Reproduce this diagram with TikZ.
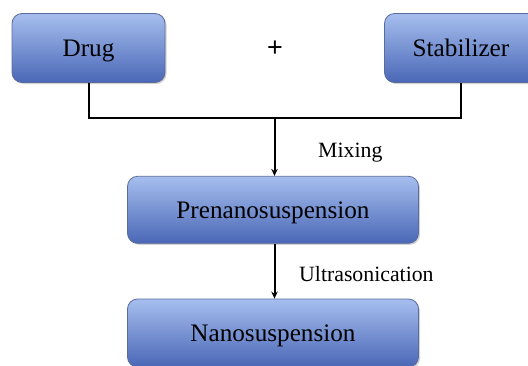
\documentclass[tikz,border=0pt]{standalone}
\usepackage{fontspec}
\setmainfont{Liberation Serif}
\newfontfamily\plusfont{Liberation Sans}
\usetikzlibrary{shadows,arrows.meta}
\definecolor{boxtop}{HTML}{A6BEEE}
\definecolor{boxbot}{HTML}{4A67B6}
\definecolor{boxline}{HTML}{5A6C9C}
\tikzset{
  procbox/.style={rounded corners=10pt, draw=boxline, line width=0.8pt,
    top color=boxtop, bottom color=boxbot,
    drop shadow={opacity=0.35, shadow xshift=1.5pt, shadow yshift=-1.5pt},
    font=\fontsize{25.2}{28}\selectfont, inner sep=0pt,
    text height=16.7pt, text depth=0pt},
  conn/.style={line width=2pt, black},
  arr/.style={conn, -{Stealth[length=7pt,width=6.5pt]}},
  lbl/.style={font=\fontsize{21.8}{24}\selectfont, inner sep=0pt, anchor=base west}
}
\begin{document}
\begin{tikzpicture}[x=1pt,y=-1pt]
\useasboundingbox (0,0) rectangle (528,365);
\begin{scope}
\clip (0,0) rectangle (528,365);
\node[procbox, minimum width=153pt, minimum height=69pt] (drug) at (88.5,48) {Drug};
\node[procbox, minimum width=153pt, minimum height=69pt] (stab) at (461,48) {Stabilizer};
\node[procbox, minimum width=291pt, minimum height=67pt] (pre) at (273,209.8) {Prenanosuspension};
\node[procbox, minimum width=291pt, minimum height=68pt] (nano) at (273,333) {Nanosuspension};
\end{scope}
\node[font=\plusfont\fontsize{27}{29}\selectfont, inner sep=0pt] (plus) at (275,48.5) {+};
\coordinate (j) at (274.5,118);
\draw[conn] (drug.south) -- (drug.south |- j) -- (stab.south |- j) -- (stab.south);
\draw[arr] (j) -- (j |- pre.north);
\draw[arr] (pre.south -| j) -- (nano.north -| j);
\node[lbl] (mix) at (318,157) {Mixing};
\node[lbl] (ultra) at (299,281) {Ultrasonication};
\end{tikzpicture}
\end{document}
